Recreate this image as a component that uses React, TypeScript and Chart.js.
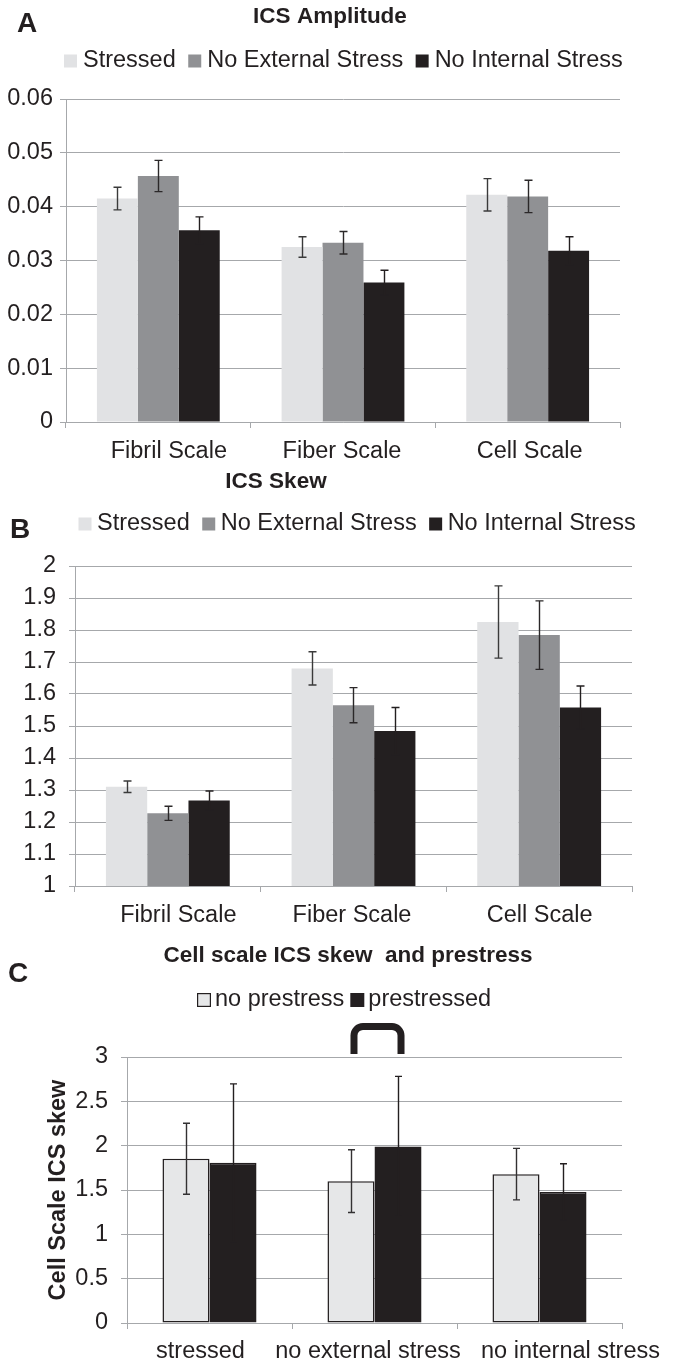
import React, { useEffect, useRef } from "react";
import { Chart, registerables } from "chart.js";

Chart.register(...registerables);

const FONT = '"Liberation Sans", Arial, Helvetica, sans-serif';
const INK = "#231f20";
const GRID = "#a6a8ab";
const LIGHT = "#e1e2e4";
const MID = "#909194";
const DARK = "#231f20";
const FS = 23.5;

// ---------- Panel A : ICS Amplitude ----------
const A_TITLE = "ICS Amplitude";
const A_CATEGORIES = ["Fibril Scale", "Fiber Scale", "Cell Scale"];
const A_SERIES = ["Stressed", "No External Stress", "No Internal Stress"];
const A_STRESSED = [0.0415, 0.0325, 0.0422];
const A_NO_EXTERNAL = [0.0457, 0.0333, 0.0419];
const A_NO_INTERNAL = [0.0356, 0.0259, 0.0318];
const A_ERR_STRESSED = [0.0021, 0.0019, 0.003];
const A_ERR_NO_EXTERNAL = [0.0029, 0.0021, 0.003];
const A_ERR_NO_INTERNAL = [0.0025, 0.0023, 0.0026];
const A_Y_TICKS = [0, 0.01, 0.02, 0.03, 0.04, 0.05, 0.06];

// ---------- Panel B : ICS Skew ----------
const B_TITLE = "ICS Skew";
const B_CATEGORIES = ["Fibril Scale", "Fiber Scale", "Cell Scale"];
const B_SERIES = ["Stressed", "No External Stress", "No Internal Stress"];
const B_STRESSED = [1.31, 1.68, 1.825];
const B_NO_EXTERNAL = [1.227, 1.565, 1.784];
const B_NO_INTERNAL = [1.267, 1.484, 1.558];
const B_ERR_STRESSED = [0.018, 0.052, 0.113];
const B_ERR_NO_EXTERNAL = [0.022, 0.055, 0.107];
const B_ERR_NO_INTERNAL = [0.03, 0.074, 0.067];
const B_Y_TICKS = [1, 1.1, 1.2, 1.3, 1.4, 1.5, 1.6, 1.7, 1.8, 1.9, 2];

// ---------- Panel C : Cell scale ICS skew and prestress ----------
const C_TITLE = "Cell scale ICS skew  and prestress";
const C_Y_TITLE = "Cell Scale ICS skew";
const C_CATEGORIES = ["stressed", "no external stress", "no internal stress"];
const C_SERIES = ["no prestress", "prestressed"];
const C_NO_PRESTRESS = [1.852, 1.6, 1.679];
const C_PRESTRESSED = [1.807, 1.992, 1.478];
const C_ERR_NO_PRESTRESS = [0.4, 0.354, 0.29];
const C_ERR_PRESTRESSED = [0.89, 0.79, 0.318];
const C_Y_TICKS = [0, 0.5, 1, 1.5, 2, 2.5, 3];

// ---------- plugins ----------
const errorBarsPlugin = {
  id: "errorBars",
  afterDatasetsDraw(chart: any, _a: any, opts: any) {
    const { ctx } = chart;
    const ys = chart.scales.y;
    ctx.save();
    ctx.lineWidth = opts.width;
    chart.data.datasets.forEach((ds: any, di: number) => {
      const meta = chart.getDatasetMeta(di);
      const errs = opts.errors[di];
      ctx.strokeStyle = opts.colors[di];
      meta.data.forEach((bar: any, i: number) => {
        const v = ds.data[i];
        const e = errs[i];
        const x = Math.round(bar.x) + 0.5;
        const t = ys.getPixelForValue(v + e);
        const b = ys.getPixelForValue(v - e);
        ctx.beginPath();
        ctx.moveTo(x, t);
        ctx.lineTo(x, b);
        ctx.moveTo(x - opts.cap / 2, t);
        ctx.lineTo(x + opts.cap / 2, t);
        ctx.moveTo(x - opts.cap / 2, b);
        ctx.lineTo(x + opts.cap / 2, b);
        ctx.stroke();
      });
    });
    ctx.restore();
  },
};

// nudges the library's own x tick labels sideways (the source figure places them off-centre)
const labelNudgePlugin = {
  id: "labelNudge",
  beforeDraw(chart: any, _a: any, opts: any) {
    if (!opts || !opts.offsets) return;
    const sc = chart.scales.x;
    if (!sc || typeof sc.getLabelItems !== "function") return;
    const items = sc.getLabelItems(chart.chartArea);
    if (!items || (items as any).__nudged) return;
    items.forEach((it: any, i: number) => {
      const off = opts.offsets[i] || 0;
      if (it && it.options && Array.isArray(it.options.translation)) {
        it.options.translation[0] += off;
      }
    });
    (items as any).__nudged = true;
  },
};

const bracketPlugin = {
  id: "bracket",
  afterDatasetsDraw(chart: any, _a: any, opts: any) {
    if (!opts || !opts.show) return;
    const { ctx, chartArea } = chart;
    const b0 = chart.getDatasetMeta(opts.datasets[0]).data[opts.index];
    const b1 = chart.getDatasetMeta(opts.datasets[1]).data[opts.index];
    const x1 = b0.x + opts.shift;
    const x2 = b1.x + opts.shift;
    const top = chartArea.top - opts.rise;
    const bottom = chartArea.top - opts.gap;
    const r = opts.radius;
    ctx.save();
    ctx.strokeStyle = INK;
    ctx.lineWidth = opts.lineWidth;
    ctx.lineCap = "butt";
    ctx.beginPath();
    ctx.moveTo(x1, bottom);
    ctx.lineTo(x1, top + r);
    ctx.arcTo(x1, top, x1 + r, top, r);
    ctx.lineTo(x2 - r, top);
    ctx.arcTo(x2, top, x2, top + r, r);
    ctx.lineTo(x2, bottom);
    ctx.stroke();
    ctx.restore();
  },
};

const decorPlugin = {
  id: "decor",
  afterDraw(chart: any, _a: any, o: any) {
    const { ctx } = chart;
    ctx.save();
    ctx.fillStyle = INK;
    ctx.textBaseline = "middle";
    if (o.letter) {
      ctx.font = `bold ${o.letter.size}px ${FONT}`;
      ctx.textAlign = "left";
      ctx.fillText(o.letter.text, o.letter.x, o.letter.y);
    }
    if (o.title) {
      ctx.font = `bold ${o.title.size}px ${FONT}`;
      ctx.textAlign = "center";
      ctx.fillText(o.title.text, o.title.x, o.title.y);
    }
    if (o.legend) {
      const L = o.legend;
      ctx.font = `${L.size}px ${FONT}`;
      ctx.textAlign = "left";
      let x = L.x;
      L.items.forEach((it: any) => {
        const bx = x;
        const by = L.y - L.box / 2;
        ctx.fillStyle = it.fill;
        ctx.fillRect(bx, by, L.box, L.box);
        if (it.stroke) {
          ctx.strokeStyle = it.stroke;
          ctx.lineWidth = 1.2;
          ctx.strokeRect(bx + 0.6, by + 0.6, L.box - 1.2, L.box - 1.2);
        }
        x += L.box + L.gap1;
        ctx.fillStyle = INK;
        ctx.fillText(it.label, x, L.y);
        x += ctx.measureText(it.label).width + L.gap2;
      });
    }
    ctx.restore();
  },
};

function makeY(ticks: number[], width: number, pad: number, title?: any) {
  return {
    min: ticks[0],
    max: ticks[ticks.length - 1],
    afterBuildTicks: (s: any) => {
      s.ticks = ticks.map((v) => ({ value: v }));
    },
    afterFit: (s: any) => {
      s.width = width;
    },
    ticks: {
      color: INK,
      font: { family: FONT, size: FS },
      padding: pad,
      callback: (v: any) => String(v),
    },
    grid: { color: GRID, lineWidth: 1, tickLength: 6, drawTicks: true },
    border: { color: GRID, width: 1 },
    title: title || { display: false },
  };
}

function makeX(height: number, pad: number) {
  return {
    afterFit: (s: any) => {
      s.height = height;
    },
    ticks: {
      color: INK,
      font: { family: FONT, size: FS },
      padding: pad,
      maxRotation: 0,
      minRotation: 0,
      autoSkip: false,
    },
    grid: {
      drawOnChartArea: false,
      tickLength: 6,
      color: GRID,
      offset: true,
    },
    border: { color: GRID, width: 1 },
  };
}

function configA(): any {
  return {
    type: "bar",
    data: {
      labels: A_CATEGORIES,
      datasets: [
        { label: A_SERIES[0], data: A_STRESSED, backgroundColor: LIGHT },
        { label: A_SERIES[1], data: A_NO_EXTERNAL, backgroundColor: MID },
        { label: A_SERIES[2], data: A_NO_INTERNAL, backgroundColor: DARK },
      ].map((d) => ({ ...d, borderWidth: 0, categoryPercentage: 0.665, barPercentage: 1 })),
    },
    options: {
      responsive: false,
      animation: false,
      devicePixelRatio: 1,
      layout: { padding: { top: 99, right: 53, left: 0, bottom: 0 } },
      scales: { x: makeX(46, 9.5), y: makeY(A_Y_TICKS, 66, 7) },
      plugins: {
        legend: { display: false },
        tooltip: { enabled: false },
        labelNudge: { offsets: [10.5, -1, 2] },
        errorBars: {
          errors: [A_ERR_STRESSED, A_ERR_NO_EXTERNAL, A_ERR_NO_INTERNAL],
          colors: ["#3a3a3a", "#2b2829", DARK],
          width: 1.4,
          cap: 8,
        },
        decor: {
          letter: { text: "A", x: 17, y: 24, size: 28 },
          title: { text: A_TITLE, x: 330, y: 17, size: 22.5 },
          legend: {
            x: 64,
            y: 61,
            size: FS,
            box: 13,
            gap1: 6,
            gap2: 12.5,
            items: [
              { label: A_SERIES[0], fill: LIGHT },
              { label: A_SERIES[1], fill: MID },
              { label: A_SERIES[2], fill: DARK },
            ],
          },
        },
      },
    },
    plugins: [labelNudgePlugin, errorBarsPlugin, decorPlugin],
  };
}

function configB(): any {
  return {
    type: "bar",
    data: {
      labels: B_CATEGORIES,
      datasets: [
        { label: B_SERIES[0], data: B_STRESSED, backgroundColor: LIGHT },
        { label: B_SERIES[1], data: B_NO_EXTERNAL, backgroundColor: MID },
        { label: B_SERIES[2], data: B_NO_INTERNAL, backgroundColor: DARK },
      ].map((d) => ({ ...d, borderWidth: 0, categoryPercentage: 0.667, barPercentage: 1 })),
    },
    options: {
      responsive: false,
      animation: false,
      devicePixelRatio: 1,
      layout: { padding: { top: 98, right: 41, left: 0, bottom: 0 } },
      scales: { x: makeX(49, 9), y: makeY(B_Y_TICKS, 75, 13) },
      plugins: {
        legend: { display: false },
        tooltip: { enabled: false },
        labelNudge: { offsets: [10.5, -1.5, 0.5] },
        errorBars: {
          errors: [B_ERR_STRESSED, B_ERR_NO_EXTERNAL, B_ERR_NO_INTERNAL],
          colors: ["#3a3a3a", "#2b2829", DARK],
          width: 1.4,
          cap: 8,
        },
        decor: {
          letter: { text: "B", x: 10, y: 62, size: 28 },
          title: { text: B_TITLE, x: 276, y: 14, size: 22.5 },
          legend: {
            x: 78.5,
            y: 56,
            size: FS,
            box: 13,
            gap1: 5.5,
            gap2: 12.5,
            items: [
              { label: B_SERIES[0], fill: LIGHT },
              { label: B_SERIES[1], fill: MID },
              { label: B_SERIES[2], fill: DARK },
            ],
          },
        },
      },
    },
    plugins: [labelNudgePlugin, errorBarsPlugin, decorPlugin],
  };
}

function configC(): any {
  return {
    type: "bar",
    data: {
      labels: C_CATEGORIES,
      datasets: [
        { label: C_SERIES[0], data: C_NO_PRESTRESS, backgroundColor: "#e6e7e8" },
        { label: C_SERIES[1], data: C_PRESTRESSED, backgroundColor: DARK },
      ].map((d) => ({
        ...d,
        borderWidth: 1.5,
        borderColor: INK,
        borderSkipped: false,
        categoryPercentage: 0.57,
        barPercentage: 1,
      })),
    },
    options: {
      responsive: false,
      animation: false,
      devicePixelRatio: 1,
      layout: { padding: { top: 122, right: 51, left: 0, bottom: 0 } },
      scales: {
        x: makeX(37, 8),
        y: makeY(C_Y_TICKS, 127, 13, {
          display: true,
          text: C_Y_TITLE,
          color: INK,
          font: { family: FONT, size: FS, weight: "bold" },
          padding: { top: 44, bottom: 0 },
        }),
      },
      plugins: {
        legend: { display: false },
        tooltip: { enabled: false },
        labelNudge: { offsets: [-9, -6.5, 31] },
        errorBars: {
          errors: [C_ERR_NO_PRESTRESS, C_ERR_PRESTRESSED],
          colors: ["#333132", DARK],
          width: 1.4,
          cap: 7,
        },
        bracket: { show: true, index: 1, datasets: [0, 1], shift: 3, rise: 30.5, gap: 3, lineWidth: 7, radius: 9 },
        decor: {
          letter: { text: "C", x: 8, y: 39, size: 28 },
          title: { text: C_TITLE, x: 348, y: 21, size: 22.5 },
          legend: {
            x: 197,
            y: 65,
            size: FS,
            box: 14,
            gap1: 4,
            gap2: 6,
            items: [
              { label: C_SERIES[0], fill: "#e6e7e8", stroke: INK },
              { label: C_SERIES[1], fill: DARK },
            ],
          },
        },
      },
    },
    plugins: [labelNudgePlugin, errorBarsPlugin, bracketPlugin, decorPlugin],
  };
}

function Panel({ top, height, make }: { top: number; height: number; make: () => any }) {
  const ref = useRef<HTMLCanvasElement | null>(null);
  useEffect(() => {
    if (!ref.current) return;
    const chart = new Chart(ref.current, make());
    return () => chart.destroy();
  }, [make]);
  return (
    <canvas
      ref={ref}
      width={673}
      height={height}
      style={{ position: "absolute", left: 0, top, width: 673, height, display: "block" }}
    />
  );
}

export default function App() {
  return (
    <div
      style={{
        position: "absolute",
        left: 0,
        top: 0,
        width: 673,
        height: 1360,
        background: "#ffffff",
        overflow: "hidden",
      }}
    >
      <Panel top={0} height={468} make={configA} />
      <Panel top={468} height={467} make={configB} />
      <Panel top={935} height={425} make={configC} />
    </div>
  );
}
